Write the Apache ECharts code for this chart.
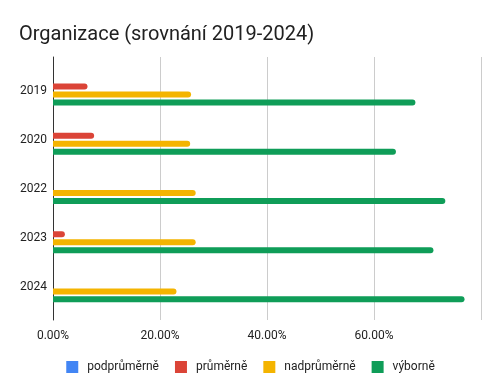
<!DOCTYPE html>
<html>
<head>
<meta charset="utf-8">
<script src="https://cdn.jsdelivr.net/npm/echarts@6/dist/echarts.min.js"></script>
<style>html,body{margin:0;padding:0;background:#fff}#c{width:501px;height:389px}</style>
</head>
<body>
<div id="c"></div>
<script>
var years = ['2019', '2020', '2022', '2023', '2024'];
var podprumerne = [0, 0, 0, 0, 0];
var prumerne = [0.0645, 0.0769, 0, 0.0222, 0];
var nadprumerne = [0.2581, 0.2564, 0.2667, 0.2667, 0.2308];
var vyborne = [0.6774, 0.6410, 0.7333, 0.7111, 0.7692];
var seriesNames = ['podprůměrně', 'průměrně', 'nadprůměrně', 'výborně'];
var colors = ['#4285F4', '#DB4437', '#F4B400', '#0F9D58'];
var xTicks = { min: 0, max: 0.8, interval: 0.2 };

var chart = echarts.init(document.getElementById('c'), null, { renderer: 'canvas' });
var font = 'Roboto, Arial, sans-serif';
var allData = [podprumerne, prumerne, nadprumerne, vyborne];
var series = allData.map(function (d, i) {
  return {
    name: seriesNames[i],
    type: 'bar',
    xAxisIndex: 0,
    yAxisIndex: 0,
    data: d,
    barWidth: 6,
    barGap: '33%',
    itemStyle: { color: colors[i], borderRadius: [0, 3, 3, 0] },
    emphasis: { disabled: true }
  };
});
chart.setOption({
  animation: false,
  color: colors,
  title: {
    text: 'Organizace (srovnání 2019-2024)',
    left: 14, top: 20,
    textStyle: { fontFamily: font, fontSize: 20, fontWeight: 'normal', color: '#212121' }
  },
  legend: {
    data: seriesNames,
    left: 'center', top: 356,
    icon: 'rect', itemWidth: 12, itemHeight: 12, itemGap: 16,
    textStyle: { fontFamily: font, fontSize: 12, color: '#222', padding: [0, 0, 0, 4] }
  },
  grid: [
    { left: 53, right: 20, top: 66, height: 246 },
    { left: 53, right: 20, top: 57, height: 263 }
  ],
  xAxis: [
    { type: 'value', gridIndex: 0, min: xTicks.min, max: xTicks.max, interval: xTicks.interval, show: false },
    { type: 'value', gridIndex: 1, min: xTicks.min, max: xTicks.max, interval: xTicks.interval,
      axisLine: { show: false }, axisTick: { show: false },
      splitLine: { show: true, lineStyle: { color: '#cccccc', width: 1 } },
      axisLabel: { showMaxLabel: false, margin: 10, fontFamily: font, fontSize: 12, color: '#222',
        formatter: function (v) { return (v * 100).toFixed(2) + '%'; } } }
  ],
  yAxis: [
    { type: 'category', gridIndex: 0, data: years, inverse: true,
      axisLine: { show: false }, axisTick: { show: false }, splitLine: { show: false },
      axisLabel: { margin: 6, fontFamily: font, fontSize: 12, color: '#222' } },
    { type: 'category', gridIndex: 1, data: years, inverse: true,
      axisLine: { show: true, lineStyle: { color: '#333', width: 1 } },
      axisTick: { show: false }, axisLabel: { show: false }, splitLine: { show: false } }
  ],
  series: series
});
</script>
</body>
</html>
